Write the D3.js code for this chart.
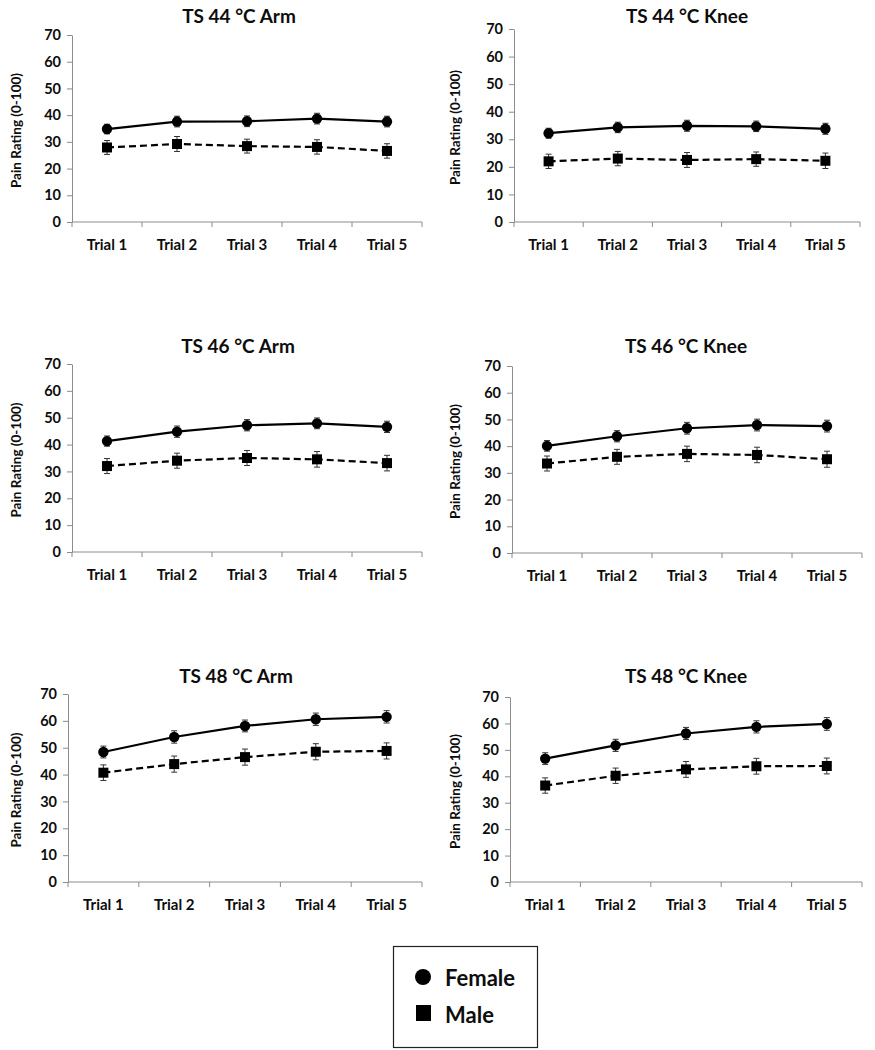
<!DOCTYPE html>
<html>
<head>
<meta charset="utf-8">
<script src="https://cdn.jsdelivr.net/npm/d3@7"></script>
<style>
  html, body { margin: 0; padding: 0; background: #fff; }
  svg { display: block; font-family: Lato, "Open Sans", sans-serif; font-weight: bold; }
</style>
</head>
<body>
<svg id="chart" width="875" height="1050"></svg>
<script>
// ---------- data ----------
const categories = ["Trial 1", "Trial 2", "Trial 3", "Trial 4", "Trial 5"];
const yTicks = [0, 10, 20, 30, 40, 50, 60, 70];
const titles = ["TS 44 °C Arm", "TS 44 °C Knee", "TS 46 °C Arm", "TS 46 °C Knee", "TS 48 °C Arm", "TS 48 °C Knee"];
const yLabel = "Pain Rating (0-100)";
const seriesNames = ["Female", "Male"];

const female44Arm  = [34.8, 37.6, 37.7, 38.7, 37.6];
const male44Arm    = [27.9, 29.2, 28.4, 28.1, 26.6];
const female44Knee = [32.2, 34.3, 34.9, 34.7, 33.8];
const male44Knee   = [22.0, 23.0, 22.5, 22.8, 22.2];
const female46Arm  = [41.3, 44.8, 47.2, 47.9, 46.6];
const male46Arm    = [32.0, 34.0, 35.0, 34.5, 33.1];
const female46Knee = [40.1, 43.7, 46.7, 47.9, 47.5];
const male46Knee   = [33.5, 36.0, 37.1, 36.7, 35.1];
const female48Arm  = [48.4, 54.0, 58.1, 60.6, 61.5];
const male48Arm    = [40.7, 43.9, 46.5, 48.5, 48.8];
const female48Knee = [46.7, 51.7, 56.2, 58.7, 59.8];
const male48Knee   = [36.5, 40.2, 42.6, 43.8, 43.9];

const femaleErr44Arm  = [1.8, 2.0, 2.0, 2.0, 2.0];
const maleErr44Arm    = [2.6, 2.8, 2.6, 2.7, 2.7];
const femaleErr44Knee = [1.8, 1.9, 2.0, 1.9, 2.0];
const maleErr44Knee   = [2.6, 2.6, 2.7, 2.6, 2.8];
const femaleErr46Arm  = [1.9, 2.1, 2.1, 2.0, 2.1];
const maleErr46Arm    = [2.8, 2.8, 2.8, 2.9, 2.9];
const femaleErr46Knee = [2.0, 2.1, 2.2, 2.2, 2.2];
const maleErr46Knee   = [2.8, 2.8, 2.9, 2.9, 3.0];
const femaleErr48Arm  = [2.2, 2.3, 2.2, 2.3, 2.3];
const maleErr48Arm    = [2.9, 3.0, 3.0, 3.0, 3.0];
const femaleErr48Knee = [2.2, 2.3, 2.3, 2.3, 2.4];
const maleErr48Knee   = [2.9, 2.9, 3.0, 3.0, 3.0];

const femaleSets = [female44Arm, female44Knee, female46Arm, female46Knee, female48Arm, female48Knee];
const maleSets   = [male44Arm, male44Knee, male46Arm, male46Knee, male48Arm, male48Knee];
const femaleErrSets = [femaleErr44Arm, femaleErr44Knee, femaleErr46Arm, femaleErr46Knee, femaleErr48Arm, femaleErr48Knee];
const maleErrSets   = [maleErr44Arm, maleErr44Knee, maleErr46Arm, maleErr46Knee, maleErr48Arm, maleErr48Knee];

// ---------- layout ----------
const layout = [
  { x0: 72,  x1: 422, yTop: 35,  yBot: 222, titleX: 239, titleY: 22.5, yLabX: 21 },
  { x0: 514, x1: 860, yTop: 29,  yBot: 222, titleX: 687, titleY: 22.5, yLabX: 460 },
  { x0: 72,  x1: 422, yTop: 364, yBot: 552, titleX: 238, titleY: 353,  yLabX: 21 },
  { x0: 512, x1: 862, yTop: 366, yBot: 553, titleX: 686, titleY: 353,  yLabX: 460 },
  { x0: 68,  x1: 422, yTop: 694, yBot: 882, titleX: 236, titleY: 683,  yLabX: 21 },
  { x0: 510, x1: 862, yTop: 697, yBot: 882, titleX: 686, titleY: 683,  yLabX: 460 }
];

const svg = d3.select("#chart");
const axisColor = "#8c8c8c";
const textColor = "#0d0d0d";

titles.forEach((title, i) => {
  const L = layout[i];
  const g = svg.append("g");
  const x = d3.scaleBand().domain(categories).range([L.x0, L.x1]);
  const y = d3.scaleLinear().domain([0, 70]).range([L.yBot, L.yTop]);

  // title
  g.append("text").attr("x", L.titleX).attr("y", L.titleY)
    .attr("text-anchor", "middle").attr("font-size", 19).attr("fill", textColor).text(title);

  // y axis
  const yAxis = g.append("g").attr("transform", `translate(${L.x0},0)`)
    .call(d3.axisLeft(y).tickValues(yTicks).tickSize(5).tickSizeOuter(0).tickPadding(6));
  yAxis.select(".domain").attr("stroke", axisColor);
  yAxis.selectAll(".tick line").attr("stroke", axisColor);
  yAxis.selectAll(".tick text").attr("font-size", 14.5).attr("fill", textColor)
    .attr("font-family", "Lato, 'Open Sans', sans-serif").attr("font-weight", "bold");

  // x axis with ticks at band boundaries
  const xAxis = g.append("g").attr("transform", `translate(0,${L.yBot})`);
  xAxis.append("line").attr("x1", L.x0).attr("x2", L.x1).attr("y1", 0).attr("y2", 0)
    .attr("stroke", axisColor);
  const bounds = categories.map(c => x(c)).concat([x(categories[categories.length - 1]) + x.bandwidth()]);
  xAxis.selectAll("line.bt").data(bounds).join("line").attr("class", "bt")
    .attr("x1", d => d).attr("x2", d => d).attr("y1", 0).attr("y2", 5).attr("stroke", axisColor);
  xAxis.selectAll("text").data(categories).join("text")
    .attr("x", d => x(d) + x.bandwidth() / 2).attr("y", 28)
    .attr("text-anchor", "middle").attr("font-size", 15).attr("fill", textColor).text(d => d);

  // y label
  g.append("text")
    .attr("transform", `translate(${L.yLabX},${(L.yTop + L.yBot) / 2 + 2}) rotate(-90)`)
    .attr("text-anchor", "middle").attr("font-size", 13.5).attr("fill", textColor).text(yLabel);

  const cx = d => x(d) + x.bandwidth() / 2;
  const series = [
    { name: seriesNames[0], vals: femaleSets[i], errs: femaleErrSets[i], dash: null, shape: "circle" },
    { name: seriesNames[1], vals: maleSets[i], errs: maleErrSets[i], dash: "7,4", shape: "square" }
  ];

  series.forEach(s => {
    const pts = categories.map((c, j) => ({ c, v: s.vals[j], e: s.errs[j] }));
    // error bars
    const eb = g.append("g").attr("stroke", "#333").attr("stroke-width", 1);
    pts.forEach(p => {
      eb.append("line").attr("x1", cx(p.c)).attr("x2", cx(p.c)).attr("y1", y(p.v - p.e)).attr("y2", y(p.v + p.e));
      eb.append("line").attr("x1", cx(p.c) - 3).attr("x2", cx(p.c) + 3).attr("y1", y(p.v - p.e)).attr("y2", y(p.v - p.e));
      eb.append("line").attr("x1", cx(p.c) - 3).attr("x2", cx(p.c) + 3).attr("y1", y(p.v + p.e)).attr("y2", y(p.v + p.e));
    });
    // line
    g.append("path").datum(pts)
      .attr("d", d3.line().x(p => cx(p.c)).y(p => y(p.v)))
      .attr("fill", "none").attr("stroke", "#000").attr("stroke-width", 2.2)
      .attr("stroke-dasharray", s.dash);
    // markers
    if (s.shape === "circle") {
      g.selectAll(null).data(pts).join("circle")
        .attr("cx", p => cx(p.c)).attr("cy", p => y(p.v)).attr("r", 5.2).attr("fill", "#000");
    } else {
      g.selectAll(null).data(pts).join("rect")
        .attr("x", p => cx(p.c) - 5).attr("y", p => y(p.v) - 5)
        .attr("width", 10).attr("height", 10).attr("fill", "#000");
    }
  });
});

// ---------- legend ----------
const lg = svg.append("g");
lg.append("rect").attr("x", 393.5).attr("y", 946.5).attr("width", 144).attr("height", 101)
  .attr("fill", "#fff").attr("stroke", "#222").attr("stroke-width", 1.2);
lg.append("circle").attr("cx", 423).attr("cy", 977).attr("r", 8).attr("fill", "#000");
lg.append("rect").attr("x", 416).attr("y", 1005).attr("width", 15).attr("height", 16).attr("fill", "#000");
lg.append("text").attr("x", 445).attr("y", 986).attr("font-size", 22).attr("fill", textColor).text(seriesNames[0]);
lg.append("text").attr("x", 445).attr("y", 1023).attr("font-size", 22).attr("fill", textColor).text(seriesNames[1]);
</script>
</body>
</html>
